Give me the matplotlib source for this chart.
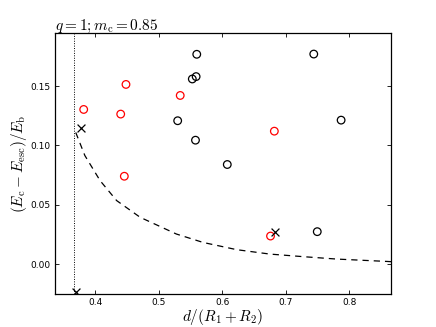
import matplotlib
matplotlib.use("Agg")
import matplotlib.pyplot as plt

plt.rcParams['mathtext.fontset'] = 'cm'
plt.rcParams['font.family'] = ['DejaVu Sans']

# black circles
black_x = [0.560, 0.744, 0.559, 0.553, 0.530, 0.558, 0.608, 0.787, 0.7495]
black_y = [0.1768, 0.177, 0.158, 0.156, 0.1208, 0.1044, 0.0839, 0.1213, 0.0273]
# red circles
red_x = [0.4487, 0.534, 0.3822, 0.4404, 0.4461, 0.682, 0.676]
red_y = [0.1514, 0.1421, 0.1303, 0.1264, 0.074, 0.112, 0.0236]
# crosses
cross_x = [0.3775, 0.370, 0.6825]
cross_y = [0.1149, -0.0237, 0.0273]
# dashed curve
curve_x = [0.3697, 0.384, 0.408, 0.434, 0.471, 0.528, 0.570, 0.623, 0.675, 0.728, 0.780, 0.859, 0.866]
curve_y = [0.1109, 0.0915, 0.0703, 0.0535, 0.0394, 0.0253, 0.0182, 0.0121, 0.0084, 0.0062, 0.0042, 0.0022, 0.0020]
vline_x = 0.3675

xticks = [0.4, 0.5, 0.6, 0.7, 0.8]
yticks = [0.00, 0.05, 0.10, 0.15]

fig = plt.figure(figsize=(4.36, 3.27), dpi=100)
ax = fig.add_axes([0.125, 0.1, 0.772, 0.8])

ax.plot(curve_x, curve_y, color='black', lw=0.9, ls=(0, (5, 4)))
ax.axvline(vline_x, color='black', lw=0.7, ls=(0, (1, 1.5)))
ax.scatter(black_x, black_y, s=30, facecolors='none', edgecolors='black', linewidths=0.9, zorder=3)
ax.scatter(red_x, red_y, s=30, facecolors='none', edgecolors='red', linewidths=0.9, zorder=3)
ax.scatter(cross_x, cross_y, s=32, marker='x', color='black', linewidths=0.9, zorder=3)

ax.set_xlim(0.3363, 0.8656)
ax.set_ylim(-0.0255, 0.195)
ax.set_xticks(xticks)
ax.set_xticklabels(['%.1f' % v for v in xticks])
ax.set_yticks(yticks)
ax.set_yticklabels(['%.2f' % v for v in yticks])
ax.tick_params(direction='in', top=True, right=True, length=3, width=0.6, labelsize=6.5, pad=3)
for s in ax.spines.values():
    s.set_linewidth(0.9)

ax.set_xlabel(r'$d/(R_1+R_2)$', fontsize=11, labelpad=0)
ax.set_ylabel(r'$(E_{\rm c}-E_{\rm esc})/E_{\rm b}$', fontsize=11, labelpad=1)
ax.set_title(r'$q=1;m_{\rm c}=0.85$', loc='left', fontsize=11, pad=2)

fig.savefig('out.png', dpi=100, facecolor='white')
